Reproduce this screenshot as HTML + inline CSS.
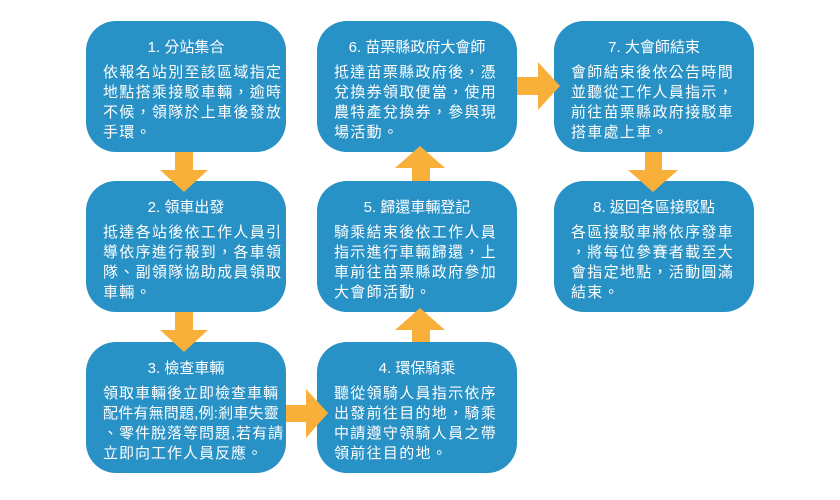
<!DOCTYPE html>
<html><head><meta charset="utf-8"><style>
body{margin:0;width:840px;height:500px;background:#fff;position:relative;overflow:hidden;font-family:"Liberation Sans","Noto Sans CJK TC",sans-serif;}
.b{position:absolute;width:200px;height:131px;background:#2891c5;border-radius:30px;color:#fff;box-sizing:border-box;padding:17px 0 0 17px;}
.t{font-size:15px;text-align:center;line-height:20px;padding-right:17px;margin-bottom:5px;}
.x{font-size:15px;line-height:20px;letter-spacing:1.3px;white-space:nowrap;}
svg{position:absolute;left:0;top:0;z-index:5;}
</style></head><body>
<div class="b" style="left:86px;top:21px"><div class="t">1. 分站集合</div><div class="x">依報名站別至該區域指定<br>地點搭乘接駁車輛，逾時<br>不候，領隊於上車後發放<br>手環。</div></div>
<div class="b" style="left:86px;top:181px"><div class="t">2. 領車出發</div><div class="x">抵達各站後依工作人員引<br>導依序進行報到，各車領<br>隊、副領隊協助成員領取<br>車輛。</div></div>
<div class="b" style="left:86px;top:342px"><div class="t">3. 檢查車輛</div><div class="x" style="letter-spacing:1px">領取車輛後立即檢查車輛<br><span style="letter-spacing:0.2px">配件有無問題,例:剎車失靈</span><br>、零件脫落等問題,若有請<br>立即向工作人員反應。</div></div>
<div class="b" style="left:317px;top:342px"><div class="t">4. 環保騎乘</div><div class="x">聽從領騎人員指示依序<br>出發前往目的地，騎乘<br>中請遵守領騎人員之帶<br>領前往目的地。</div></div>
<div class="b" style="left:317px;top:181px"><div class="t">5. 歸還車輛登記</div><div class="x">騎乘結束後依工作人員<br>指示進行車輛歸還，上<br>車前往苗栗縣政府參加<br>大會師活動。</div></div>
<div class="b" style="left:317px;top:21px"><div class="t">6. 苗栗縣政府大會師</div><div class="x">抵達苗栗縣政府後，憑<br>兌換券領取便當，使用<br>農特產兌換券，參與現<br>場活動。</div></div>
<div class="b" style="left:554px;top:21px"><div class="t">7. 大會師結束</div><div class="x">會師結束後依公告時間<br>並聽從工作人員指示，<br>前往苗栗縣政府接駁車<br>搭車處上車。</div></div>
<div class="b" style="left:554px;top:181px"><div class="t">8. 返回各區接駁點</div><div class="x">各區接駁車將依序發車<br>，將每位參賽者載至大<br>會指定地點，活動圓滿<br>結束。</div></div>
<svg width="840" height="500">
<g fill="#f9b03a">
<polygon points="175,152 193,152 193,170 208,170 184,192 160,170 175,170"/>
<polygon points="175,312 193,312 193,330 208,330 184,352 160,330 175,330"/>
<polygon points="645,152 662,152 662,170 678,170 653,192 628,170 645,170"/>
<polygon points="286,405 306,405 306,389 328,413 306,438 306,422 286,422"/>
<polygon points="517,77 538,77 538,62 560,86 538,110 538,95 517,95"/>
<polygon points="412,342 430,342 430,330 445,330 420,308 395,330 412,330"/>
<polygon points="412,181 430,181 430,168 445,168 420,146 395,168 412,168"/>
</g></svg>
</body></html>
